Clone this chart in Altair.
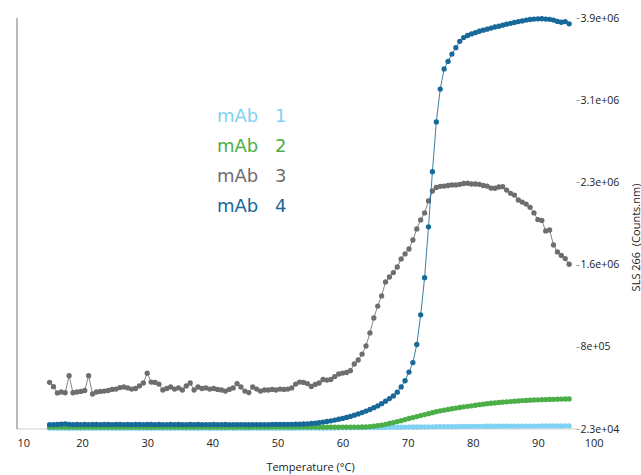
import altair as alt
import pandas as pd

# ---------------- data ----------------
temps = [15.0, 15.6, 16.2, 16.8, 17.4, 18.0, 18.6, 19.2, 19.8, 20.4,
         21.0, 21.6, 22.2, 22.8, 23.4, 24.0, 24.6, 25.2, 25.8, 26.4,
         27.0, 27.6, 28.2, 28.8, 29.4, 30.0, 30.6, 31.2, 31.8, 32.4,
         33.0, 33.6, 34.2, 34.8, 35.4, 36.0, 36.6, 37.2, 37.8, 38.4,
         39.0, 39.6, 40.2, 40.8, 41.4, 42.0, 42.6, 43.2, 43.8, 44.4,
         45.0, 45.6, 46.2, 46.8, 47.4, 48.0, 48.6, 49.2, 49.8, 50.4,
         51.0, 51.6, 52.2, 52.8, 53.4, 54.0, 54.6, 55.2, 55.8, 56.4,
         57.0, 57.6, 58.2, 58.8, 59.4, 60.0, 60.6, 61.2, 61.8, 62.4,
         63.0, 63.6, 64.2, 64.8, 65.4, 66.0, 66.6, 67.2, 67.8, 68.4,
         69.0, 69.6, 70.2, 70.8, 71.4, 72.0, 72.6, 73.2, 73.8, 74.4,
         75.0, 75.6, 76.2, 76.8, 77.4, 78.0, 78.6, 79.2, 79.8, 80.4,
         81.0, 81.6, 82.2, 82.8, 83.4, 84.0, 84.6, 85.2, 85.8, 86.4,
         87.0, 87.6, 88.2, 88.8, 89.4, 90.0, 90.6, 91.2, 91.8, 92.4,
         93.0, 93.6, 94.2, 94.8]

# SLS 266 values in thousands of counts.nm
mab1_k = [31, 31, 30, 31, 31, 30, 31, 31, 30, 31,
          31, 30, 31, 31, 30, 31, 31, 30, 31, 31,
          30, 31, 31, 30, 31, 31, 30, 31, 31, 30,
          31, 31, 30, 31, 31, 30, 31, 31, 30, 31,
          31, 30, 31, 31, 30, 31, 31, 30, 31, 31,
          30, 31, 31, 30, 31, 31, 30, 31, 31, 31,
          31, 31, 31, 31, 32, 32, 32, 32, 32, 32,
          32, 33, 33, 33, 33, 34, 34, 34, 35, 35,
          35, 36, 36, 37, 37, 38, 38, 39, 39, 40,
          40, 41, 41, 42, 42, 43, 43, 44, 44, 45,
          45, 45, 46, 46, 46, 47, 47, 47, 48, 48,
          48, 48, 49, 49, 49, 49, 50, 50, 50, 50,
          50, 51, 51, 51, 51, 51, 52, 52, 52, 52,
          52, 52, 53, 53]

mab2_k = [41, 40, 41, 40, 41, 40, 41, 40, 41, 40,
          41, 40, 41, 40, 41, 40, 41, 40, 41, 40,
          41, 40, 41, 40, 41, 40, 41, 40, 41, 40,
          41, 40, 41, 40, 41, 40, 41, 40, 41, 40,
          41, 40, 41, 40, 41, 40, 41, 40, 41, 40,
          41, 40, 41, 40, 41, 40, 41, 41, 41, 41,
          41, 41, 41, 41, 41, 41, 41, 41, 41, 41,
          41, 41, 41, 41, 41, 41, 41, 41, 41, 41,
          42, 44, 46, 49, 54, 60, 67, 75, 84, 93,
          102, 112, 122, 131, 140, 150, 159, 168, 177, 186,
          194, 201, 208, 214, 220, 226, 232, 237, 242, 247,
          252, 257, 262, 266, 269, 273, 276, 279, 282, 285,
          288, 291, 293, 295, 297, 298, 300, 301, 302, 303,
          304, 305, 306, 307]

mab3_k = [463, 422, 363, 372, 365, 526, 365, 372, 377, 386,
          526, 353, 372, 377, 381, 386, 396, 400, 414, 419,
          410, 400, 405, 429, 457, 550, 466, 462, 447, 391,
          405, 419, 400, 410, 391, 429, 457, 391, 419, 405,
          410, 400, 405, 396, 391, 381, 396, 410, 452, 419,
          381, 367, 419, 400, 381, 391, 391, 396, 391, 400,
          396, 400, 410, 447, 466, 462, 452, 424, 443, 457,
          490, 485, 490, 518, 542, 551, 556, 573, 636, 674,
          730, 806, 929, 1070, 1183, 1278, 1410, 1457, 1499, 1551,
          1627, 1674, 1721, 1806, 1910, 1995, 2061, 2174, 2268, 2301,
          2312, 2315, 2320, 2325, 2325, 2331, 2339, 2341, 2334, 2334,
          2331, 2320, 2315, 2296, 2294, 2306, 2309, 2277, 2246, 2230,
          2183, 2164, 2145, 2114, 2061, 1999, 1990, 1891, 1900, 1759,
          1693, 1660, 1631, 1577]

mab4_k = [64, 65, 66, 68, 72, 66, 65, 66, 65, 66,
          65, 66, 66, 65, 66, 66, 65, 66, 66, 65,
          66, 65, 66, 66, 65, 66, 66, 65, 66, 65,
          65, 66, 65, 66, 65, 65, 66, 65, 66, 65,
          65, 65, 66, 65, 65, 66, 65, 65, 64, 65,
          65, 64, 65, 65, 64, 65, 65, 66, 66, 66,
          66, 67, 67, 68, 68, 70, 72, 75, 78, 82,
          88, 94, 100, 107, 115, 123, 132, 142, 153, 165,
          178, 192, 207, 224, 241, 262, 285, 310, 335, 370,
          420, 478, 560, 650, 820, 1100, 1450, 1930, 2450, 2920,
          3230, 3420, 3490, 3560, 3620, 3680, 3715, 3735, 3750, 3762,
          3775, 3785, 3795, 3805, 3815, 3822, 3832, 3842, 3850, 3858,
          3866, 3872, 3880, 3886, 3890, 3892, 3893, 3890, 3888, 3880,
          3868, 3860, 3866, 3845]

series_names = ["mAb 1", "mAb 2", "mAb 3", "mAb 4"]
series_colors = ["#80d2f5", "#4cae47", "#6e6e70", "#17699a"]

x_ticks = [10, 20, 30, 40, 50, 60, 70, 80, 90, 100]
y_ticks = [23000, 798400, 1573800, 2349200, 3124600, 3900000]
x_domain = [10, 100]
y_domain = [23000, 3900000]
x_axis_end = 96.15  # where the bottom baseline meets the right axis

# ---------------- build table ----------------
rows = []
for name, vals in zip(series_names, [mab1_k, mab2_k, mab3_k, mab4_k]):
    for t, v in zip(temps, vals):
        rows.append({"series": name, "temp": t, "sls": v * 1000})
df = pd.DataFrame(rows)

FONT = "Open Sans"

y_label_expr = (
    "(round(datum.value / pow(10, floor(log(datum.value) / LN10)) * 10) / 10)"
    " + 'e+' + (floor(log(datum.value) / LN10) < 10 ? '0' : '')"
    " + floor(log(datum.value) / LN10)"
)

x_enc = alt.X(
    "temp:Q",
    scale=alt.Scale(domain=x_domain, nice=False, zero=False),
    axis=alt.Axis(
        title="Temperature (°C)", values=x_ticks, domain=False, ticks=False,
        tickSize=0, grid=False, labelPadding=8, titlePadding=13,
        labelFont=FONT, titleFont=FONT, labelFontSize=11, titleFontSize=11,
        titleFontWeight="normal", labelColor="#222222", titleColor="#222222",
    ),
)
y_enc = alt.Y(
    "sls:Q",
    scale=alt.Scale(domain=y_domain, nice=False, zero=False),
    axis=alt.Axis(
        orient="right", offset=-27, values=y_ticks, labelExpr=y_label_expr,
        domain=False, tickSize=3, tickColor="#9a9a9a", grid=False,
        labelPadding=1, labelFont=FONT, labelFontSize=10.5, labelColor="#222222",
        title="SLS 266\u00a0\u00a0(Counts.nm)", titleFont=FONT, titleFontSize=11,
        titleFontWeight="normal", titleColor="#222222", titleAngle=270,
        titleX=60, titleY=219, titleAlign="center", titleBaseline="middle",
    ),
)
color_scale = alt.Scale(domain=series_names, range=series_colors)

base = alt.Chart(df)
layers = []
for name in series_names:
    sub = base.transform_filter(alt.datum.series == name)
    line = sub.mark_line(strokeWidth=1, opacity=0.85).encode(
        x=x_enc, y=y_enc,
        color=alt.Color("series:N", scale=color_scale, legend=None),
    )
    pts = sub.mark_circle(size=28, opacity=1).encode(
        x=x_enc, y=y_enc,
        color=alt.Color("series:N", scale=color_scale, legend=None),
    )
    layers += [line, pts]

# legend drawn as coloured text entries
LEG_FONT = "DejaVu Sans"
legend_layers = []
for i, (name, col) in enumerate(zip(series_names, series_colors)):
    word, num = name.split(" ")
    lg = pd.DataFrame({"word": [word], "num": [num]})
    legend_layers.append(
        alt.Chart(lg).mark_text(
            font=LEG_FONT, fontSize=18, color=col, align="left", baseline="middle"
        ).encode(text="word:N", x=alt.value(200), y=alt.value(99 + 30 * i))
    )
    legend_layers.append(
        alt.Chart(lg).mark_text(
            font=LEG_FONT, fontSize=18, color=col, align="left", baseline="middle"
        ).encode(text="num:N", x=alt.value(258), y=alt.value(99 + 30 * i))
    )

left_line = alt.Chart(pd.DataFrame({"x": [x_domain[0]], "y": [y_domain[0]], "y2": [y_domain[1]]})).mark_rule(
    color="#8a8a8a", strokeWidth=1.2
).encode(x="x:Q", y="y:Q", y2="y2:Q")

bottom_line = alt.Chart(pd.DataFrame({"x": [x_domain[0]], "x2": [x_axis_end], "y": [y_domain[0]]})).mark_rule(
    color="#cfcfcf", strokeWidth=1
).encode(x="x:Q", x2="x2:Q", y="y:Q")

chart = alt.layer(bottom_line, left_line, *layers, *legend_layers).properties(
    width=586, height=411,
    padding={"left": 17, "top": 18, "right": 38, "bottom": 46},
    autosize=alt.AutoSizeParams(type="none"),
    background="white",
).configure_view(stroke=None)

chart.save("out.html", embed_options={"renderer": "svg", "actions": False})
